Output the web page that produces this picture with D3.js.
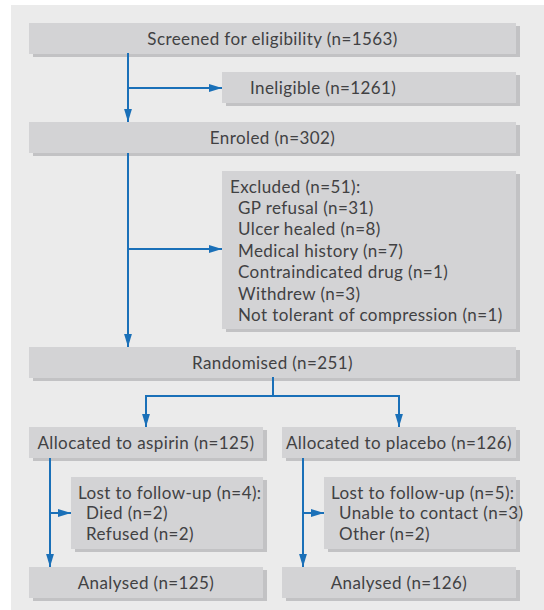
<!DOCTYPE html>
<html>
<head>
<meta charset="utf-8">
<script src="https://cdn.jsdelivr.net/npm/d3@7"></script>
<style>
  body { margin: 0; background: #fff; }
  text { font-family: Lato, sans-serif; font-size: 17px; letter-spacing: 0.4px; fill: #414143; }
</style>
</head>
<body>
<div id="chart"></div>
<script>
// stages of the trial flow (label + count)
const stageLabels = ["Screened for eligibility", "Enroled", "Randomised"];
const stageCounts = [1563, 302, 251];

const ineligibleCount = 1261;

const excludedTotal = 51;
const excludedReasons = ["GP refusal", "Ulcer healed", "Medical history", "Contraindicated drug", "Withdrew", "Not tolerant of compression"];
const excludedCounts = [31, 8, 7, 1, 3, 1];

const armLabels = ["aspirin", "placebo"];
const armCounts = [125, 126];

const lostTotals = [4, 5];
const lostReasons = [["Died", "Refused"], ["Unable to contact", "Other"]];
const lostCounts = [[2, 2], [3, 2]];

const analysedCounts = [125, 126];

// layout
const W = 544, H = 610;
const boxFill = "#d3d3d5", shadowFill = "#c2c2c4", bgFill = "#ebebeb", blue = "#1a70b8";

const svg = d3.select("#chart").append("svg")
    .attr("width", W).attr("height", H);

svg.append("defs").append("marker")
    .attr("id", "arr").attr("viewBox", "0 0 10 10")
    .attr("refX", 10).attr("refY", 5)
    .attr("markerWidth", 6.5).attr("markerHeight", 6.5)
    .attr("markerUnits", "strokeWidth")
    .attr("orient", "auto")
  .append("path").attr("d", "M0,2 L10,5 L0,8 Z").attr("fill", blue);

svg.append("rect").attr("x", 11).attr("y", 5).attr("width", W - 11).attr("height", H - 5).attr("fill", bgFill);

const box = function(x, y, w, h) {
    svg.append("rect").attr("x", x + 4).attr("y", y + 3).attr("width", w).attr("height", h).attr("fill", shadowFill);
    svg.append("rect").attr("x", x).attr("y", y).attr("width", w).attr("height", h).attr("fill", boxFill);
};

const label = function(x, y, txt, anchor) {
    return svg.append("text").attr("x", x).attr("y", y)
        .attr("text-anchor", anchor || "middle")
        .attr("dominant-baseline", "central")
        .text(txt);
};

const arrow = function(pts, head) {
    const p = svg.append("path").attr("d", d3.line()(pts))
        .attr("fill", "none").attr("stroke", blue).attr("stroke-width", 2);
    if (head) p.attr("marker-end", "url(#arr)");
};

const n = c => `(n=${c})`;

// main stage boxes
const L = 29, R = 516;
const stageY = [23, 122, 347], boxH = 31;
stageY.forEach((y, i) => {
    box(L, y, R - L, boxH);
    label((L + R) / 2, y + boxH / 2, `${stageLabels[i]} ${n(stageCounts[i])}`);
});

// side boxes
const sideX = 222;
box(sideX, 72, R - sideX, 31);
label(250, 87.5, `Ineligible ${n(ineligibleCount)}`, "start");

const exY = 171, exH = 158, lh = 21.4;
box(sideX, exY, R - sideX, exH);
label(230, 186, `Excluded ${n(excludedTotal)}:`, "start");
excludedReasons.forEach((r, i) => label(238, 186 + lh * (i + 1), `${r} ${n(excludedCounts[i])}`, "start"));

// trunk arrows
const trunkX = 128;
arrow([[trunkX, 53], [trunkX, 122]], true);
arrow([[trunkX, 88], [sideX, 88]], true);
arrow([[trunkX, 153], [trunkX, 347]], true);
arrow([[trunkX, 249], [sideX, 249]], true);

// split to arms
const armX = [29, 282], armW = 234;
const armCenter = [146, 399];
arrow([[273, 377], [273, 396]], false);
arrow([[armCenter[0], 396], [armCenter[1], 396]], false);
armCenter.forEach(cx => arrow([[cx, 395], [cx, 427]], true));

const lostX = [71, 324], lostY = 477, lostH = 72, lostLh = 20.7;
const armLineX = [50, 303];

armLabels.forEach((a, i) => {
    box(armX[i], 427, armW, boxH);
    label(armX[i] + armW / 2, 442.5, `Allocated to ${a} ${n(armCounts[i])}`);

    box(lostX[i], lostY, armX[i] + armW - lostX[i], lostH);
    label(lostX[i] + 7, 492, `Lost to follow-up ${n(lostTotals[i])}:`, "start");
    lostReasons[i].forEach((r, j) => label(lostX[i] + 15, 492 + lostLh * (j + 1), `${r} ${n(lostCounts[i][j])}`, "start"));

    box(armX[i], 567, armW, boxH);
    label(armX[i] + armW / 2, 582.5, `Analysed ${n(analysedCounts[i])}`);

    arrow([[armLineX[i], 458], [armLineX[i], 567]], true);
    arrow([[armLineX[i], 513], [lostX[i], 513]], true);
});
</script>
</body>
</html>
